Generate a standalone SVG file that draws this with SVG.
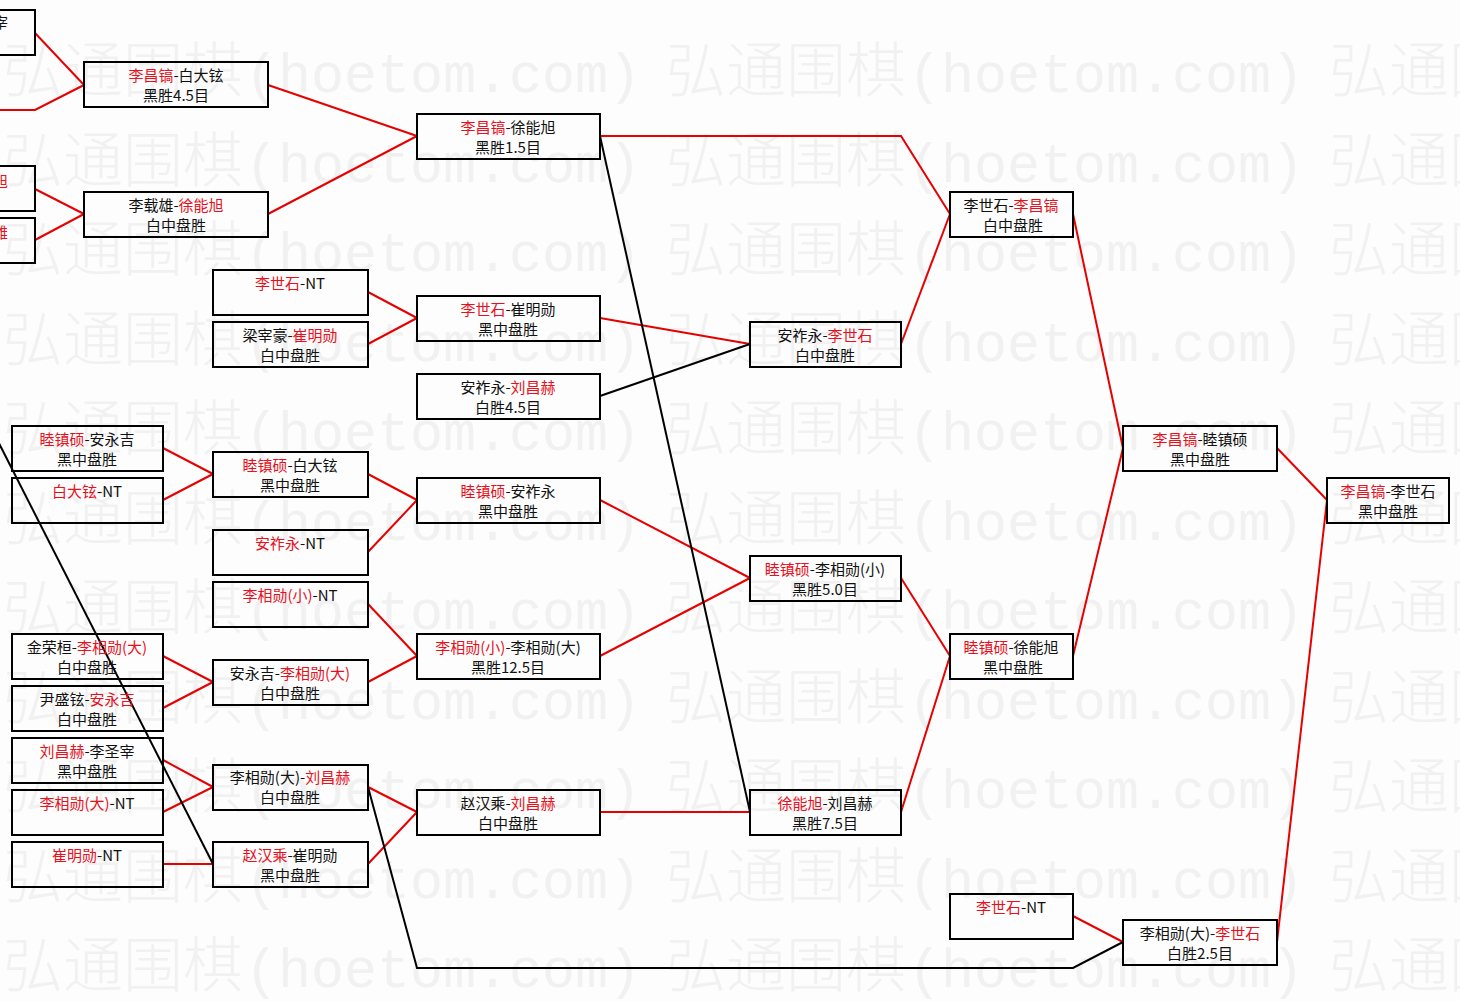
<svg xmlns="http://www.w3.org/2000/svg" xmlns:xlink="http://www.w3.org/1999/xlink" width="1460" height="1001" viewBox="0 0 1460 1001">
<style>
.bg{fill:#fdfdfd}
.wmc{font-family:"Noto Sans CJK SC","Noto Sans",sans-serif;font-size:60px;font-weight:300;fill:#f1f1f1}
.wml{font-family:"Liberation Mono",monospace;font-size:55px;fill:#f1f1f1}
.box{fill:none;stroke:#000;stroke-width:2}
.t{font-family:"Noto Sans CJK SC","Liberation Sans",sans-serif;font-size:15px;fill:#111;text-anchor:middle}
.r{fill:#e8101c}
.cr{fill:none;stroke:#e60000;stroke-width:2}
.cb{fill:none;stroke:#000;stroke-width:2}
</style>
<defs>
<text id="wm"><tspan class="wmc" x="3">弘通围棋</tspan><tspan class="wml" x="245">(hoetom.com)</tspan><tspan class="wmc" x="666">弘通围棋</tspan><tspan class="wml" x="908">(hoetom.com)</tspan><tspan class="wmc" x="1329">弘通围棋</tspan></text>
</defs>
<rect class="bg" x="0" y="0" width="1460" height="1001"/>
<g id="watermark">
<use xlink:href="#wm" y="92"/>
<use xlink:href="#wm" y="181.5"/>
<use xlink:href="#wm" y="271"/>
<use xlink:href="#wm" y="360.5"/>
<use xlink:href="#wm" y="450"/>
<use xlink:href="#wm" y="539.5"/>
<use xlink:href="#wm" y="629"/>
<use xlink:href="#wm" y="718.5"/>
<use xlink:href="#wm" y="808"/>
<use xlink:href="#wm" y="897.5"/>
<use xlink:href="#wm" y="987"/>
</g>
<g id="connectors">
<path class="cr" d="M35,33 L84,85"/>
<path class="cr" d="M-5,110 L35,110 L84,85"/>
<path class="cr" d="M35,189 L84,214"/>
<path class="cr" d="M35,240 L84,214"/>
<path class="cr" d="M268,85 L417,136"/>
<path class="cr" d="M268,214 L417,136"/>
<path class="cr" d="M368,292 L417,318"/>
<path class="cr" d="M368,344 L417,318"/>
<path class="cr" d="M163,448 L213,474"/>
<path class="cr" d="M163,500 L213,474"/>
<path class="cr" d="M368,474 L417,500"/>
<path class="cr" d="M368,552 L417,500"/>
<path class="cr" d="M163,656 L213,682"/>
<path class="cr" d="M163,708 L213,682"/>
<path class="cr" d="M368,604 L417,656"/>
<path class="cr" d="M368,682 L417,656"/>
<path class="cr" d="M163,760 L213,787"/>
<path class="cr" d="M163,812 L213,787"/>
<path class="cr" d="M163,864 L213,864"/>
<path class="cr" d="M368,787 L417,812"/>
<path class="cr" d="M368,864 L417,812"/>
<path class="cr" d="M600,136 L901,136 L950,214"/>
<path class="cr" d="M600,318 L750,344"/>
<path class="cr" d="M901,344 L950,214"/>
<path class="cr" d="M600,500 L750,578"/>
<path class="cr" d="M600,656 L750,578"/>
<path class="cr" d="M600,812 L750,812"/>
<path class="cr" d="M901,578 L950,656"/>
<path class="cr" d="M901,812 L950,656"/>
<path class="cr" d="M1073,214 L1123,448"/>
<path class="cr" d="M1073,656 L1123,448"/>
<path class="cr" d="M1277,448 L1327,500"/>
<path class="cr" d="M1277,942 L1327,500"/>
<path class="cr" d="M1073,916 L1123,942"/>
<path class="cb" d="M600,396 L750,344"/>
<path class="cb" d="M600,136 L750,812"/>
<path class="cb" d="M-21,404 L213,864"/>
<path class="cb" d="M368,787 L417,968 L1073,968 L1123,942"/>
</g>
<g id="nA"><rect class="box" x="-120" y="10" width="155" height="45"/><text class="t" style="text-anchor:end" x="8" y="28">宰</text></g>
<g id="nB"><rect class="box" x="-120" y="166" width="155" height="45"/><text class="t r" style="text-anchor:end" x="8" y="187">旭</text></g>
<g id="nC"><rect class="box" x="-120" y="218" width="155" height="45"/><text class="t r" style="text-anchor:end" x="8" y="238">雄</text></g>

<g id="n1"><rect class="box" x="84" y="62" width="184" height="45"/><text class="t" x="176" y="81"><tspan class="r">李昌镐</tspan>-白大铉</text><text class="t" x="176" y="101">黑胜4.5目</text></g>
<g id="n2"><rect class="box" x="84" y="192" width="184" height="45"/><text class="t" x="176" y="211">李载雄-<tspan class="r">徐能旭</tspan></text><text class="t" x="176" y="231">白中盘胜</text></g>

<g id="n3"><rect class="box" x="213" y="270" width="155" height="45"/><text class="t" x="290" y="289"><tspan class="r">李世石</tspan>-NT</text></g>
<g id="n4"><rect class="box" x="213" y="322" width="155" height="45"/><text class="t" x="290" y="341">梁宰豪-<tspan class="r">崔明勋</tspan></text><text class="t" x="290" y="361">白中盘胜</text></g>
<g id="n5"><rect class="box" x="213" y="452" width="155" height="45"/><text class="t" x="290" y="471"><tspan class="r">睦镇硕</tspan>-白大铉</text><text class="t" x="290" y="491">黑中盘胜</text></g>
<g id="n6"><rect class="box" x="213" y="530" width="155" height="45"/><text class="t" x="290" y="549"><tspan class="r">安祚永</tspan>-NT</text></g>
<g id="n7"><rect class="box" x="213" y="582" width="155" height="45"/><text class="t" x="290" y="601"><tspan class="r">李相勋(小)</tspan>-NT</text></g>
<g id="n8"><rect class="box" x="213" y="660" width="155" height="45"/><text class="t" x="290" y="679">安永吉-<tspan class="r">李相勋(大)</tspan></text><text class="t" x="290" y="699">白中盘胜</text></g>
<g id="n9"><rect class="box" x="213" y="765" width="155" height="45"/><text class="t" x="290" y="783">李相勋(大)-<tspan class="r">刘昌赫</tspan></text><text class="t" x="290" y="803">白中盘胜</text></g>
<g id="n10"><rect class="box" x="213" y="842" width="155" height="45"/><text class="t" x="290" y="861"><tspan class="r">赵汉乘</tspan>-崔明勋</text><text class="t" x="290" y="881">黑中盘胜</text></g>

<g id="n11"><rect class="box" x="12" y="426" width="151" height="45"/><text class="t" x="87" y="445"><tspan class="r">睦镇硕</tspan>-安永吉</text><text class="t" x="87" y="465">黑中盘胜</text></g>
<g id="n12"><rect class="box" x="12" y="478" width="151" height="45"/><text class="t" x="87" y="497"><tspan class="r">白大铉</tspan>-NT</text></g>
<g id="n13"><rect class="box" x="12" y="634" width="151" height="45"/><text class="t" x="87" y="653">金荣桓-<tspan class="r">李相勋(大)</tspan></text><text class="t" x="87" y="673">白中盘胜</text></g>
<g id="n14"><rect class="box" x="12" y="686" width="151" height="45"/><text class="t" x="87" y="705">尹盛铉-<tspan class="r">安永吉</tspan></text><text class="t" x="87" y="725">白中盘胜</text></g>
<g id="n15"><rect class="box" x="12" y="738" width="151" height="45"/><text class="t" x="87" y="757"><tspan class="r">刘昌赫</tspan>-李圣宰</text><text class="t" x="87" y="777">黑中盘胜</text></g>
<g id="n16"><rect class="box" x="12" y="790" width="151" height="45"/><text class="t" x="87" y="809"><tspan class="r">李相勋(大)</tspan>-NT</text></g>
<g id="n17"><rect class="box" x="12" y="842" width="151" height="45"/><text class="t" x="87" y="861"><tspan class="r">崔明勋</tspan>-NT</text></g>

<g id="n18"><rect class="box" x="417" y="114" width="183" height="45"/><text class="t" x="508" y="133"><tspan class="r">李昌镐</tspan>-徐能旭</text><text class="t" x="508" y="153">黑胜1.5目</text></g>
<g id="n19"><rect class="box" x="417" y="296" width="183" height="45"/><text class="t" x="508" y="315"><tspan class="r">李世石</tspan>-崔明勋</text><text class="t" x="508" y="335">黑中盘胜</text></g>
<g id="n20"><rect class="box" x="417" y="374" width="183" height="45"/><text class="t" x="508" y="393">安祚永-<tspan class="r">刘昌赫</tspan></text><text class="t" x="508" y="413">白胜4.5目</text></g>
<g id="n21"><rect class="box" x="417" y="478" width="183" height="45"/><text class="t" x="508" y="497"><tspan class="r">睦镇硕</tspan>-安祚永</text><text class="t" x="508" y="517">黑中盘胜</text></g>
<g id="n22"><rect class="box" x="417" y="634" width="183" height="45"/><text class="t" x="508" y="653"><tspan class="r">李相勋(小)</tspan>-李相勋(大)</text><text class="t" x="508" y="673">黑胜12.5目</text></g>
<g id="n23"><rect class="box" x="417" y="790" width="183" height="45"/><text class="t" x="508" y="809">赵汉乘-<tspan class="r">刘昌赫</tspan></text><text class="t" x="508" y="829">白中盘胜</text></g>

<g id="n24"><rect class="box" x="750" y="322" width="151" height="45"/><text class="t" x="825" y="341">安祚永-<tspan class="r">李世石</tspan></text><text class="t" x="825" y="361">白中盘胜</text></g>
<g id="n25"><rect class="box" x="750" y="556" width="151" height="45"/><text class="t" x="825" y="575"><tspan class="r">睦镇硕</tspan>-李相勋(小)</text><text class="t" x="825" y="595">黑胜5.0目</text></g>
<g id="n26"><rect class="box" x="750" y="790" width="151" height="45"/><text class="t" x="825" y="809"><tspan class="r">徐能旭</tspan>-刘昌赫</text><text class="t" x="825" y="829">黑胜7.5目</text></g>

<g id="n27"><rect class="box" x="950" y="192" width="123" height="45"/><text class="t" x="1011" y="211">李世石-<tspan class="r">李昌镐</tspan></text><text class="t" x="1013" y="231">白中盘胜</text></g>
<g id="n28"><rect class="box" x="950" y="634" width="123" height="45"/><text class="t" x="1011" y="653"><tspan class="r">睦镇硕</tspan>-徐能旭</text><text class="t" x="1013" y="673">黑中盘胜</text></g>
<g id="n29"><rect class="box" x="950" y="894" width="123" height="45"/><text class="t" x="1011" y="913"><tspan class="r">李世石</tspan>-NT</text></g>

<g id="n30"><rect class="box" x="1123" y="426" width="154" height="45"/><text class="t" x="1200" y="445"><tspan class="r">李昌镐</tspan>-睦镇硕</text><text class="t" x="1200" y="465">黑中盘胜</text></g>
<g id="n31"><rect class="box" x="1123" y="920" width="154" height="45"/><text class="t" x="1200" y="939">李相勋(大)-<tspan class="r">李世石</tspan></text><text class="t" x="1200" y="959">白胜2.5目</text></g>

<g id="n32"><rect class="box" x="1327" y="478" width="122" height="45"/><text class="t" x="1388" y="497"><tspan class="r">李昌镐</tspan>-李世石</text><text class="t" x="1388" y="517">黑中盘胜</text></g>
</svg>
